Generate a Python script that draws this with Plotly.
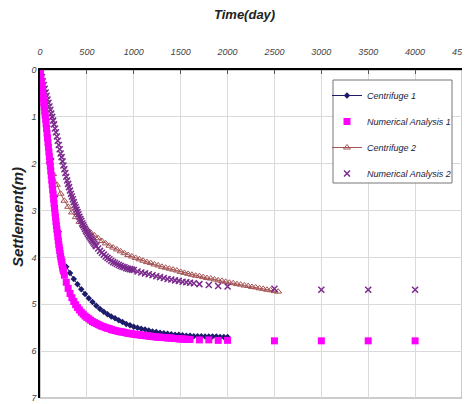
import plotly.graph_objects as go

# ---------------- data ----------------
# Numerical Analysis 1: dense early part (every 5 days 0..250)
na1_t_a = list(range(0, 251, 5))
na1_s_a = [0.00, 0.09, 0.18, 0.26, 0.35, 0.44, 0.53, 0.61, 0.70, 0.79,
           0.88, 0.96, 1.05, 1.15, 1.25, 1.35, 1.45, 1.55, 1.65, 1.75,
           1.85, 1.95, 2.05, 2.15, 2.25, 2.35, 2.45, 2.55, 2.65, 2.75,
           2.85, 2.95, 3.05, 3.14, 3.23, 3.32, 3.40, 3.48, 3.56, 3.64,
           3.72, 3.79, 3.85, 3.92, 3.98, 4.04, 4.09, 4.15, 4.20, 4.25,
           4.29]
# Numerical Analysis 1: every 20 days 260..1600
na1_t_b = list(range(260, 1601, 20))
na1_s_b = [4.38, 4.53, 4.66, 4.77, 4.86, 4.94, 5.01, 5.07, 5.12, 5.17,
           5.21, 5.25, 5.28, 5.31, 5.34, 5.37, 5.39, 5.41, 5.43, 5.45,
           5.47, 5.48, 5.50, 5.51, 5.52, 5.54, 5.55, 5.56, 5.57, 5.58,
           5.59, 5.59, 5.60, 5.61, 5.62, 5.62, 5.63, 5.64, 5.64, 5.65,
           5.65, 5.66, 5.66, 5.67, 5.67, 5.68, 5.68, 5.69, 5.69, 5.70,
           5.70, 5.70, 5.71, 5.71, 5.71, 5.72, 5.72, 5.72, 5.73, 5.73,
           5.73, 5.74, 5.74, 5.74, 5.74, 5.75, 5.75, 5.75]
# Numerical Analysis 1: sparse tail
na1_t_c = [1700, 1800, 1900, 2000, 2500, 3000, 3500, 4000]
na1_s_c = [5.76, 5.76, 5.77, 5.77, 5.78, 5.78, 5.78, 5.78]

# Centrifuge 1 (every 40 days 0..2000)
c1_t = list(range(0, 2001, 40))
c1_s = [0.00, 0.55, 1.20, 1.90, 2.70, 3.45, 4.05, 4.20, 4.33, 4.46,
        4.57, 4.68, 4.78, 4.87, 4.95, 5.03, 5.10, 5.16, 5.21, 5.26,
        5.30, 5.34, 5.38, 5.42, 5.45, 5.48, 5.50, 5.52, 5.54, 5.56,
        5.58, 5.59, 5.61, 5.62, 5.63, 5.64, 5.65, 5.65, 5.66, 5.67,
        5.67, 5.68, 5.68, 5.68, 5.69, 5.69, 5.69, 5.69, 5.70, 5.70,
        5.70]

# Centrifuge 2 (day 0, then every 40 days 100..2540)
c2_t = [0] + list(range(100, 2541, 40))
c2_s = [0.00,
        1.95, 2.22, 2.45, 2.64, 2.79, 2.92, 3.04, 3.14, 3.24, 3.32,
        3.40, 3.47, 3.53, 3.59, 3.65, 3.70, 3.75, 3.79, 3.83, 3.87,
        3.91, 3.95, 3.98, 4.01, 4.04, 4.07, 4.10, 4.12, 4.15, 4.17,
        4.20, 4.22, 4.24, 4.26, 4.28, 4.31, 4.33, 4.35, 4.37, 4.39,
        4.40, 4.42, 4.44, 4.45, 4.47, 4.49, 4.50, 4.52, 4.54, 4.55,
        4.57, 4.58, 4.60, 4.61, 4.63, 4.64, 4.66, 4.67, 4.69, 4.70,
        4.72, 4.73]

# Numerical Analysis 2: every 10 days 0..600
na2_t_a = list(range(0, 601, 10))
na2_s_a = [0.00, 0.07, 0.15, 0.24, 0.32, 0.40, 0.48, 0.55, 0.63, 0.70,
           0.78, 0.85, 0.93, 1.00, 1.08, 1.16, 1.25, 1.33, 1.42, 1.51,
           1.60, 1.69, 1.78, 1.86, 1.95, 2.04, 2.12, 2.20, 2.28, 2.36,
           2.43, 2.50, 2.57, 2.64, 2.70, 2.76, 2.82, 2.88, 2.93, 2.98,
           3.03, 3.08, 3.13, 3.18, 3.22, 3.27, 3.31, 3.35, 3.39, 3.43,
           3.46, 3.50, 3.53, 3.56, 3.59, 3.62, 3.65, 3.68, 3.71, 3.74,
           3.76]
# Numerical Analysis 2: every 20 days 620..1000
na2_t_b = list(range(620, 1001, 20))
na2_s_b = [3.81, 3.86, 3.90, 3.94, 3.98, 4.01, 4.04, 4.07, 4.10, 4.12,
           4.14, 4.16, 4.18, 4.20, 4.21, 4.23, 4.24, 4.25, 4.26, 4.27]
# Numerical Analysis 2: sparse tail
na2_t_c = list(range(1040, 1641, 40)) + [1700, 1800, 1900, 2000, 2500, 3000, 3500, 4000]
na2_s_c = [4.30, 4.32, 4.34, 4.36, 4.38, 4.40, 4.42, 4.44, 4.46, 4.47,
           4.49, 4.50, 4.52, 4.53, 4.54, 4.55,
           4.57, 4.59, 4.61, 4.62, 4.67, 4.69, 4.69, 4.69]

x_ticks = [0, 500, 1000, 1500, 2000, 2500, 3000, 3500, 4000, 4500]
y_ticks = [0, 1, 2, 3, 4, 5, 6, 7]

# ---------------- figure ----------------
fig = go.Figure()

fig.add_trace(go.Scatter(
    x=c1_t, y=c1_s, name="Centrifuge 1", mode="lines+markers",
    line=dict(color="#1c1c6b", width=1),
    marker=dict(symbol="diamond", size=5, color="#1c1c6b"),
    legendgroup="a", legendrank=1))

fig.add_trace(go.Scatter(
    x=c2_t, y=c2_s, name="Centrifuge 2", mode="lines+markers",
    line=dict(color="#a55353", width=1),
    marker=dict(symbol="triangle-up-open", size=6, color="#a55353",
                line=dict(width=1)),
    legendgroup="c", legendrank=3))

fig.add_trace(go.Scatter(
    x=na2_t_a + na2_t_b + na2_t_c, y=na2_s_a + na2_s_b + na2_s_c,
    name="Numerical Analysis 2", mode="markers",
    marker=dict(symbol="x-thin-open", size=6, color="#7b2a8c",
                line=dict(width=1.5, color="#7b2a8c")),
    legendgroup="d", legendrank=4))

fig.add_trace(go.Scatter(
    x=na1_t_a + na1_t_b + na1_t_c, y=na1_s_a + na1_s_b + na1_s_c,
    name="Numerical Analysis 1", mode="markers",
    marker=dict(symbol="square", size=7, color="#ff00ff"),
    legendgroup="b", legendrank=2))

tick_font = dict(family="Liberation Sans", size=9, color="#444444", style="italic")

# The page body has an 8px default margin, so the figure is 8px smaller
# and page coordinates (px) are used below for the plot-area relative placement.
L, R, T, B = 40, 462, 70, 398  # plot area in page pixels


def px(xp):
    return (xp - L) / (R - L)


def py(yp):
    return (B - yp) / (B - T)


fig.update_layout(
    width=462, height=396,
    margin=dict(l=L - 8, r=470 - R, t=T - 8, b=404 - B, autoexpand=False),
    paper_bgcolor="white", plot_bgcolor="white",
    showlegend=True,
    legend=dict(
        x=px(327), y=py(81), xanchor="left", yanchor="top",
        bgcolor="rgba(0,0,0,0)", borderwidth=0,
        font=dict(family="Liberation Sans", size=9, color="#1a1a40", style="italic"),
        tracegroupgap=7, traceorder="grouped", itemwidth=30,
    ),
    xaxis=dict(range=[0, 4500], side="top", tickvals=x_ticks,
               ticktext=[str(v) for v in x_ticks], tickfont=tick_font,
               showgrid=True, gridcolor="#dadada", gridwidth=1,
               showline=True, linecolor="black", linewidth=1.5,
               ticks="inside", ticklen=4, tickcolor="#555555",
               ticklabelstandoff=10, ticklabeloverflow="allow", automargin=False,
               zeroline=False, fixedrange=True),
    yaxis=dict(range=[7, 0], tickvals=y_ticks,
               ticktext=[str(v) for v in y_ticks], tickfont=tick_font,
               showgrid=True, gridcolor="#dadada", gridwidth=1,
               showline=True, linecolor="black", linewidth=1.5,
               ticks="", automargin=False, zeroline=False, fixedrange=True),
    shapes=[
        dict(type="rect", xref="paper", yref="paper", x0=0, x1=1, y0=0, y1=1,
             line=dict(color="#999999", width=1), layer="below"),
        dict(type="rect", xref="paper", yref="paper",
             x0=px(333), x1=px(452), y0=py(183), y1=py(80),
             line=dict(color="#777777", width=1), fillcolor="white", layer="above"),
    ],
    annotations=[
        dict(text="Time(day)", showarrow=False,
             xref="paper", yref="paper",
             x=px(244), y=py(15),
             xanchor="center", yanchor="middle",
             font=dict(family="Liberation Sans", size=13, color="#222222",
                       weight="bold", style="italic")),
        dict(text="Settlement(m)", textangle=-90, showarrow=False,
             xref="paper", yref="paper",
             x=px(18), y=py(217),
             xanchor="center", yanchor="middle",
             font=dict(family="Liberation Sans", size=15, color="#222222",
                       weight="bold", style="italic")),
    ],
)

fig.write_html("out.html")
